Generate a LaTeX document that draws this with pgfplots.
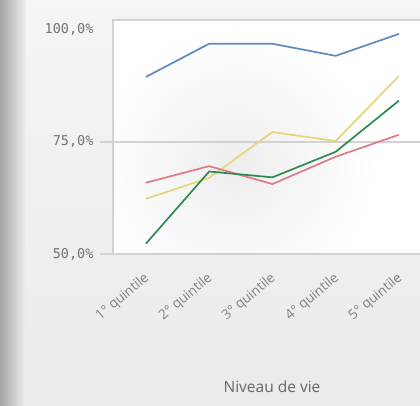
\documentclass[border=0pt]{standalone}
\usepackage{fontspec}
\setmainfont{Open Sans}
\newfontfamily\monof{DejaVu Sans Mono}
\usepackage{pgfplots}
\pgfplotsset{compat=1.18}
\definecolor{cblue}{HTML}{5E8AC4}
\definecolor{cyellow}{HTML}{E6D47C}
\definecolor{cgreen}{HTML}{2E8B4E}
\definecolor{cred}{HTML}{E07A88}
\definecolor{gridc}{HTML}{D2D2D2}
\begin{document}
\begin{tikzpicture}[x=1pt,y=1pt]
\useasboundingbox (0,0) rectangle (420,406);
\clip (0,0) rectangle (420,406);
\shade[top color=black!4, bottom color=black!8] (0,0) rectangle (420,406);
\shade[left color=black!35, right color=black!6] (0,0) rectangle (26,406);
\fill[white] (113,152) rectangle (420,386);
\begin{scope}
\clip (113,152) rectangle (420,386);
\shade[inner color=black!7, outer color=white] (235,240) circle (140);
\end{scope}
\begin{axis}[
  at={(113pt,152pt)}, anchor=south west,
  width=309pt, height=234pt, scale only axis,
  xmin=-0.52, xmax=4.365, ymin=50, ymax=102.2,
  clip=false,
  axis line style={draw=gridc, line width=1.2pt},
  xtick={0,1,2,3,4},
  xticklabels={1° quintile,2° quintile,3° quintile,4° quintile,5° quintile},
  ytick={50,75,100},
  yticklabels={50{,}0\%,75{,}0\%,100{,}0\%},
  tick style={draw=none},
  yticklabel style={font=\monof\fontsize{13.5}{13.5}\selectfont, text=black!55, anchor=east, xshift=-16pt},
  xticklabel style={font=\fontsize{13.5}{13.5}\selectfont, text=black!50, rotate=40, anchor=north east, xshift=-10pt, yshift=-8pt},
]
\draw[gridc, line width=1.2pt] ([xshift=-13pt]axis cs:-0.52,75) -- (axis cs:4.5,75);
\draw[gridc, line width=1.2pt] ([xshift=-13pt]axis cs:-0.52,50) -- (axis cs:-0.52,50);
\addplot[cblue, line width=1.7pt] coordinates {(0,89.5) (1,96.9) (2,96.9) (3,94.2) (4,99.1)};
\addplot[cyellow, line width=1.7pt] coordinates {(0,62.3) (1,67.0) (2,77.2) (3,75.2) (4,89.7)};
\addplot[cred, line width=1.7pt] coordinates {(0,65.9) (1,69.6) (2,65.6) (3,71.7) (4,76.6)};
\addplot[cgreen, line width=1.7pt] coordinates {(0,52.3) (1,68.4) (2,67.1) (3,72.8) (4,84.2)};
\end{axis}
\node[text=black!60, font=\fontsize{15.5}{15.5}\selectfont] at (272,19) {Niveau de vie};
\end{tikzpicture}
\end{document}
